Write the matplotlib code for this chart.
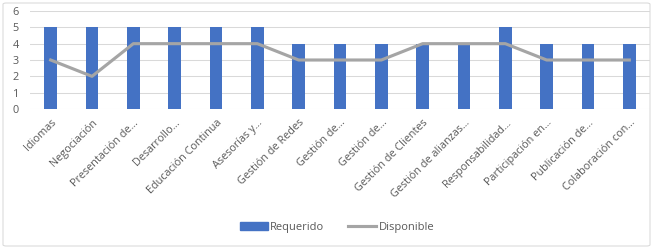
import matplotlib
matplotlib.use("Agg")
import matplotlib.pyplot as plt
from matplotlib.patches import FancyBboxPatch
from matplotlib.lines import Line2D
from matplotlib.patches import Patch
import numpy as np

categories = ["Idiomas", "Negociación", "Presentación de...", "Desarrollo...",
              "Educación Continua", "Asesorías y...", "Gestión de Redes",
              "Gestión de...", "Gestión de...", "Gestión de Clientes",
              "Gestión de alianzas...", "Responsabilidad...", "Participación en...",
              "Publicación de...", "Colaboración con..."]
requerido = [5, 5, 5, 5, 5, 5, 4, 4, 4, 4, 4, 5, 4, 4, 4]
disponible = [3, 2, 4, 4, 4, 4, 3, 3, 3, 4, 4, 4, 3, 3, 3]

plt.rcParams['font.family'] = ['Open Sans', 'DejaVu Sans']
txt = '#595959'

fig = plt.figure(figsize=(6.53, 2.49), dpi=100)
ax = fig.add_axes([30/653, 1-109/249, 620/653, 98/249])

x = np.arange(len(categories))
ax.bar(x, requerido, width=0.31, color='#4472C4', zorder=2, label='Requerido')
ax.plot(x, disponible, color='#A5A5A5', lw=2.25, zorder=3, label='Disponible')

ax.set_xlim(-0.5, len(categories) - 0.5)
ax.set_ylim(0, 6)
ax.set_yticks(range(7))
ax.yaxis.grid(True, color='#D9D9D9', lw=0.75, zorder=0)
for s in ax.spines.values():
    s.set_visible(False)
ax.tick_params(axis='both', length=0, colors=txt, labelsize=7.8)
ax.tick_params(axis='y', pad=8)
ax.set_xticks(x)
ax.set_xticklabels(categories, rotation=45, ha='right', va='top', rotation_mode='anchor')
ax.tick_params(axis='x', pad=6)

handles = [Patch(color='#4472C4', label='Requerido'),
           Line2D([0], [0], color='#A5A5A5', lw=2.25, label='Disponible')]
fig.legend(handles=handles, loc='center', bbox_to_anchor=(337/653, 1-227/249), ncol=2,
           frameon=False, fontsize=8, handlelength=2.5, handletextpad=0.2,
           columnspacing=2.2, labelcolor=txt)

border = FancyBboxPatch((3/653, 3/249), 647/653, 243/249, boxstyle='round,pad=0,rounding_size=0.005',
                        transform=fig.transFigure, fill=False, edgecolor='#D9D9D9', lw=0.75)
fig.patches.append(border)

fig.savefig('out.png', dpi=100)
